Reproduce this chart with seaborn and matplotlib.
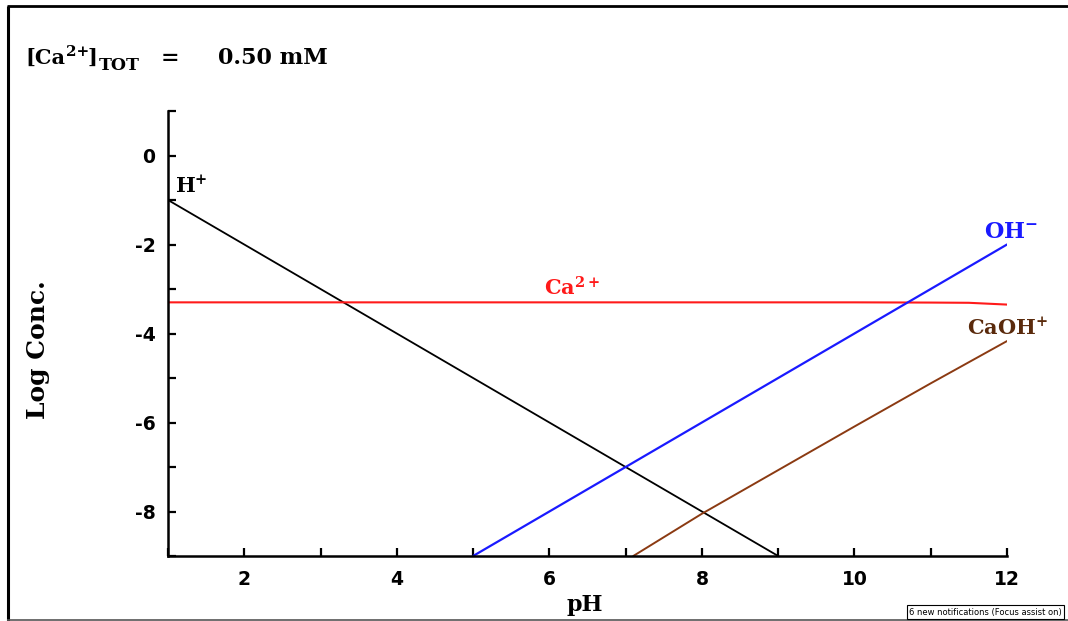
import matplotlib
matplotlib.use("Agg")
import matplotlib.pyplot as plt
import seaborn as sns
import pandas as pd
from matplotlib.lines import Line2D

# ---- data ----
h_ph = [1.0, 9.0]
h_log = [-1.0, -9.0]

oh_ph = [5.0, 12.0]
oh_log = [-9.0, -2.0]

ca_ph = [1.0, 3.0, 5.0, 7.0, 9.0, 10.0, 11.0, 11.5, 12.0]
ca_log = [-3.30, -3.30, -3.30, -3.30, -3.30, -3.30, -3.305, -3.31, -3.35]

caoh_ph = [7.1, 8.0, 9.0, 10.0, 11.0, 12.0]
caoh_log = [-9.0, -8.05, -7.07, -6.09, -5.12, -4.17]

x_major = [2, 4, 6, 8, 10, 12]
x_minor = [1, 3, 5, 7, 9, 11]
y_major = [0, -2, -4, -6, -8]
y_minor = [1, -1, -3, -5, -7, -9]

sns.set_style("ticks")
plt.rcParams["font.family"] = ["DejaVu Serif"]
plt.rcParams["text.color"] = "black"
plt.rcParams["mathtext.fontset"] = "custom"
plt.rcParams["mathtext.rm"] = "DejaVu Serif:bold"
plt.rcParams["mathtext.it"] = "DejaVu Serif:bold"
plt.rcParams["mathtext.bf"] = "DejaVu Serif:bold"
plt.rcParams["mathtext.default"] = "rm"

W, H = 1068, 621
fig = plt.figure(figsize=(W / 100, H / 100), dpi=100)
fig.patch.set_facecolor("white")
ax = fig.add_axes([168 / W, 1 - 556 / H, (1007 - 168) / W, (556 - 111) / H])

def df(x, y):
    return pd.DataFrame({"pH": x, "log": y})

sns.lineplot(data=df(h_ph, h_log), x="pH", y="log", color="black", lw=1.3, ax=ax)
sns.lineplot(data=df(ca_ph, ca_log), x="pH", y="log", color="#ff1a1a", lw=1.5, ax=ax)
sns.lineplot(data=df(oh_ph, oh_log), x="pH", y="log", color="#1a1aff", lw=1.6, ax=ax)
sns.lineplot(data=df(caoh_ph, caoh_log), x="pH", y="log", color="#8b3a12", lw=1.4, ax=ax)

ax.set_xlim(1, 12)
ax.set_ylim(-9, 1)
ax.set_xticks(x_major)
ax.set_xticks(x_minor, minor=True)
ax.set_yticks(y_major)
ax.set_yticks(y_minor, minor=True)
ax.set_xticklabels([str(v) for v in x_major])
ax.set_yticklabels([str(v) for v in y_major])
for lab in ax.get_xticklabels() + ax.get_yticklabels():
    lab.set_fontfamily("DejaVu Sans")
    lab.set_fontweight("bold")
    lab.set_fontsize(13.5)
    lab.set_color("black")
ax.tick_params(axis="both", which="both", direction="in", length=6, width=1.6, color="black",
               labelcolor="black")
ax.tick_params(axis="x", which="major", pad=10)
ax.tick_params(axis="y", which="major", pad=9)

sns.despine(ax=ax, top=True, right=True)
for s in ["left", "bottom"]:
    ax.spines[s].set_linewidth(1.8)
    ax.spines[s].set_color("black")

ax.set_xlabel("")
ax.set_ylabel("")

def px(x, y):
    return x / W, 1 - y / H

fig.text(*px(585, 605), "pH", ha="center", va="center", fontsize=16, fontweight="bold")
fig.text(*px(38, 350), "Log Conc.", ha="center", va="center", rotation=90,
         fontsize=18, fontweight="bold")

# title
tkw = dict(ha="left", va="baseline", fontweight="bold")
fig.text(*px(25, 64), "[Ca", fontsize=15, **tkw)
fig.text(*px(66, 56), "2+", fontsize=11, **tkw)
fig.text(*px(88, 64), "]", fontsize=15, **tkw)
fig.text(*px(99, 70), "TOT", fontsize=12.5, **tkw)
fig.text(*px(161, 64), "=", fontsize=16, **tkw)
fig.text(*px(218, 64), "0.50 mM", fontsize=16, **tkw)

# curve labels
fig.text(*px(175, 193), r"$\mathrm{H^{+}}$", ha="left", va="baseline", fontsize=15, color="black")
fig.text(*px(544, 295), r"$\mathrm{Ca^{2+}}$", ha="left", va="baseline", fontsize=15, color="#ff1a1a")
fig.text(*px(984, 238), r"$\mathrm{OH^{-}}$", ha="left", va="baseline", fontsize=16, color="#1a1aff")
fig.text(*px(967, 335), r"$\mathrm{CaOH^{+}}$", ha="left", va="baseline", fontsize=15, color="#5a2a0c")

# frame lines of the screenshot
fig.add_artist(Line2D([7.5 / W, 7.5 / W], [0, 1 - 5.5 / H], transform=fig.transFigure,
                      color="black", lw=2.2, solid_capstyle="butt"))
fig.add_artist(Line2D([7 / W, 1], [1 - 5.5 / H, 1 - 5.5 / H], transform=fig.transFigure,
                      color="black", lw=2.0, solid_capstyle="butt"))
fig.add_artist(Line2D([7 / W, 1], [1 - 619.5 / H, 1 - 619.5 / H], transform=fig.transFigure,
                      color="#555555", lw=1.2, solid_capstyle="butt"))

fig.text(*px(909, 612), "6 new notifications (Focus assist on)", ha="left", va="center",
         fontsize=6.0, family="DejaVu Sans", color="black",
         bbox=dict(boxstyle="square,pad=0.25", fc="white", ec="black", lw=0.8))

fig.savefig("out.png", dpi=100, facecolor="white")
